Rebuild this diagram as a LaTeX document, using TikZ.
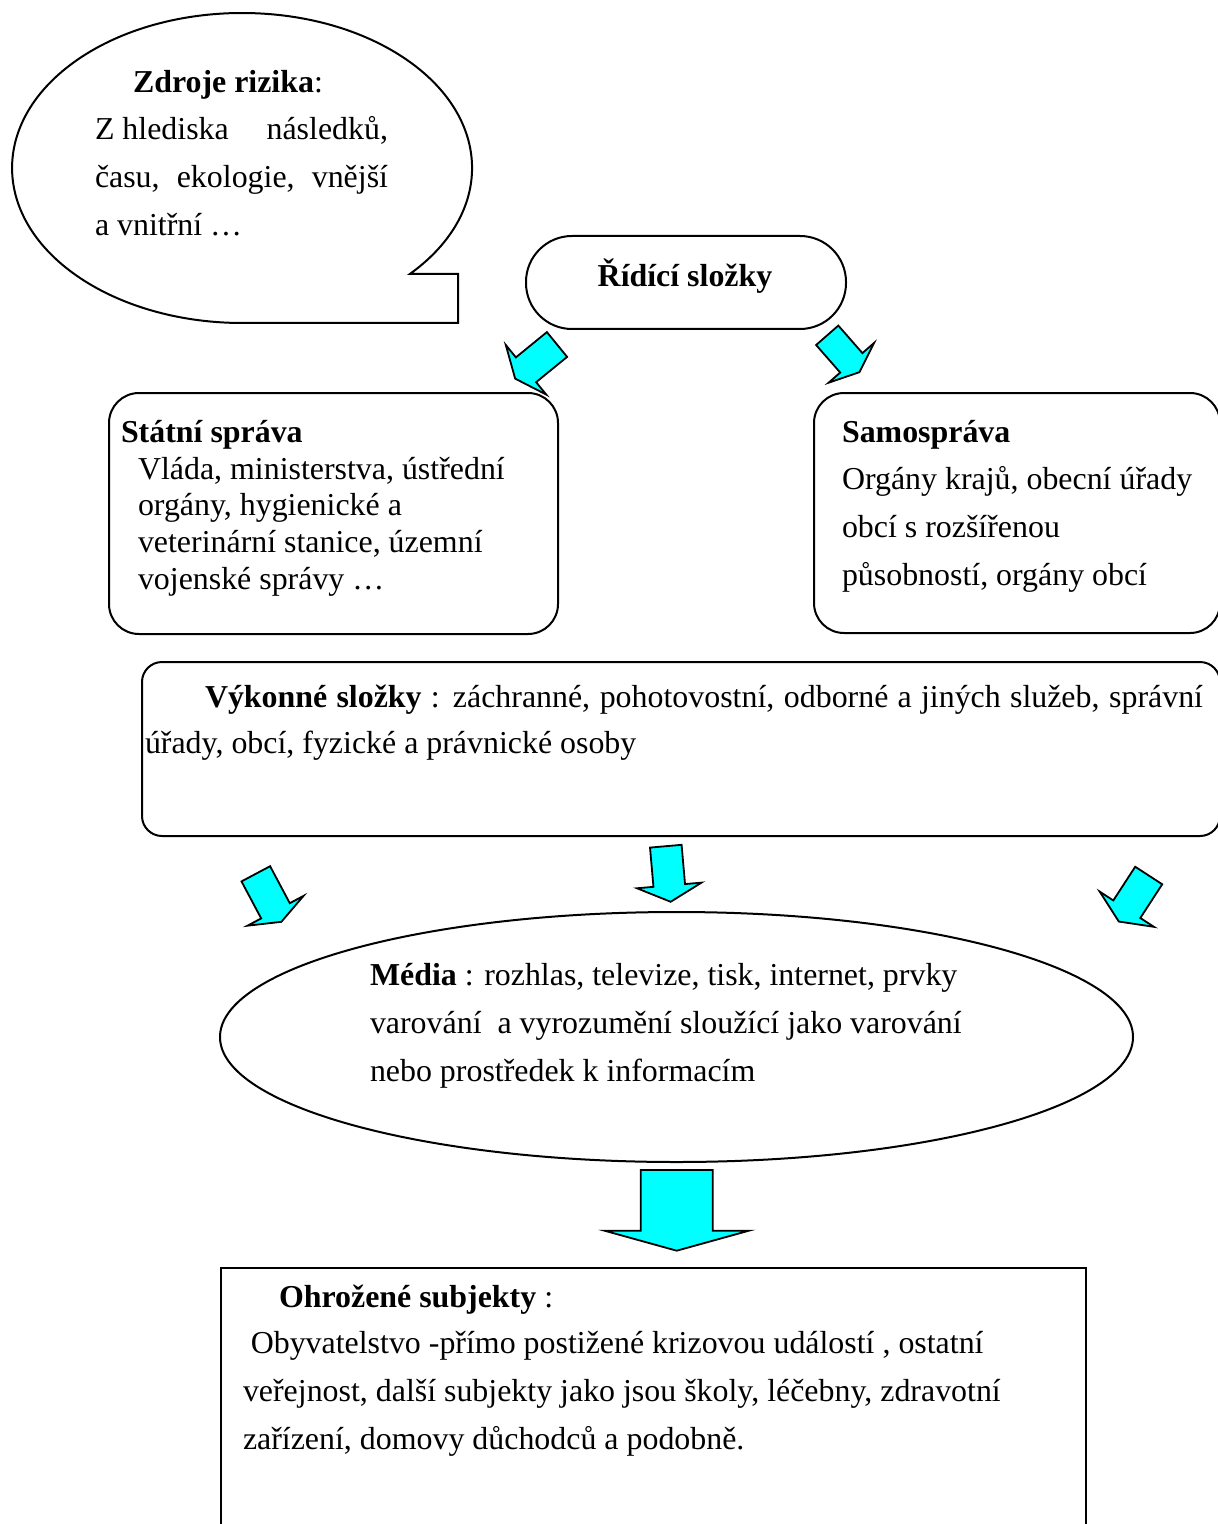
\documentclass[tikz,border=0pt]{standalone}
\usepackage{fontspec}
\setmainfont{Liberation Serif}
\usetikzlibrary{shapes.geometric}
\definecolor{aqua}{RGB}{0,255,255}
\tikzset{
  outline/.style={draw, line width=1pt, fill=white},
  txt/.style={inner sep=0pt, outer sep=0pt, anchor=base west, font=\fontsize{15.95pt}{18pt}\selectfont},
  blk/.style={draw, line width=0.9pt, fill=aqua, line join=miter},
}
\newcommand\blockarrow[7]{% tail x, tail y, angle, shaft length, head length, shaft width, head width
  \begin{scope}[shift={(#1,#2)}, rotate=#3]
    \draw[blk] (0,-#6/2) -- (#4,-#6/2) -- (#4,-#7/2) -- (#4+#5,0) -- (#4,#7/2) -- (#4,#6/2) -- (0,#6/2) -- cycle;
  \end{scope}}
\newcommand\txtblock[3]{\begin{minipage}[t]{#1}\fontsize{15.95pt}{#2}\selectfont #3\end{minipage}}
\begin{document}
\begin{tikzpicture}[x=0.5pt, y=-0.5pt]
\useasboundingbox (0,0) rectangle (1218,1524);
\clip (0,0) rectangle (1218,1524);
\fill[white] (0,0) rectangle (1218,1524);

% callout
\draw[line width=1pt, fill=white] (410,273.9) arc[start angle=43.1, end angle=-270, x radius=230, y radius=155]
   -- (458,323) -- (458,273.9) -- cycle;
\node[txt] (zdrojeT) at (133,93) {\textbf{Zdroje rizika}:};
\node[txt] (zdrojeB) at (95,140) {\txtblock{200pt}{24pt}{%
  \makebox[146.5pt][l]{Z hlediska\hfill následků,}\\
  \makebox[146.5pt][s]{času, ekologie, vnější}\\
  a vnitřní …}};

% Řídící složky
\node[outline, rounded corners=23pt, minimum width=160pt, minimum height=46.5pt, anchor=north west, inner sep=0pt] (ridici) at (525,235) {};
\node[txt, anchor=base] (ridiciT) at (685,287) {\textbf{Řídící složky}};

% Státní správa
\node[outline, rounded corners=15pt, minimum width=224.5pt, minimum height=120.5pt, anchor=north west, inner sep=0pt] (statni) at (108,392) {};
\node[txt] (statniT) at (121,442) {\textbf{Státní správa}};
\node[txt] (statniB) at (138,479) {\txtblock{215pt}{18.4pt}{%
  Vláda, ministerstva, ústřední\\
  orgány, hygienické a\\
  veterinární stanice, územní\\
  vojenské správy …}};

% Samospráva
\node[outline, rounded corners=15pt, minimum width=203pt, minimum height=120pt, anchor=north west, inner sep=0pt] (samo) at (813,392) {};
\node[txt] (samoT) at (842,442) {\textbf{Samospráva}};
\node[txt] (samoB) at (842,489) {\txtblock{200pt}{24pt}{%
  Orgány krajů, obecní úřady\\
  obcí s rozšířenou\\
  působností, orgány obcí}};

% Výkonné složky
\node[outline, rounded corners=10pt, minimum width=539pt, minimum height=87pt, anchor=north west, inner sep=0pt] (vykon) at (141,661) {};
\node[txt] (vykonA) at (205,707) {\makebox[499pt][s]{\textbf{Výkonné složky} : záchranné, pohotovostní, odborné a jiných služeb, správní}};
\node[txt] (vykonB) at (145,753) {úřady, obcí, fyzické a právnické osoby};

% Média
\node[outline, ellipse, minimum width=456.5pt, minimum height=125pt, inner sep=0pt] (media) at (676.5,1037) {};
\node[txt] (mediaT) at (370,985) {\txtblock{320pt}{24pt}{%
  \textbf{Média} : rozhlas, televize, tisk, internet, prvky\\
  varování\ \ a vyrozumění sloužící jako varování\\
  nebo prostředek k informacím}};

% Ohrožené subjekty
\node[outline, minimum width=432.5pt, minimum height=140pt, anchor=north west, inner sep=0pt] (ohroz) at (220,1267) {};
\node[txt] (ohrozT) at (279,1307) {\textbf{Ohrožené subjekty} :};
\node[txt] (ohrozB) at (243,1353) {\txtblock{420pt}{24pt}{%
  \hspace*{3.9pt}Obyvatelstvo -přímo postižené krizovou událostí , ostatní\\
  veřejnost, další subjekty jako jsou školy, léčebny, zdravotní\\
  zařízení, domovy důchodců a podobně.}};

% block arrows
\blockarrow{557}{344.5}{219.2}{40}{14}{32}{64}
\blockarrow{827.2}{335.3}{-48.8}{36.6}{12.4}{29.5}{60.4}
\blockarrow{255.8}{873.8}{-62}{41.9}{12.5}{32.4}{63.5}
\blockarrow{665.8}{846.2}{-85}{39.4}{16.4}{31.7}{64.7}
\blockarrow{1148.7}{875.5}{-123}{40.2}{14.7}{32.2}{64.7}
\blockarrow{676.7}{1170}{-90}{60.7}{20}{72}{144.3}
\end{tikzpicture}
\end{document}
